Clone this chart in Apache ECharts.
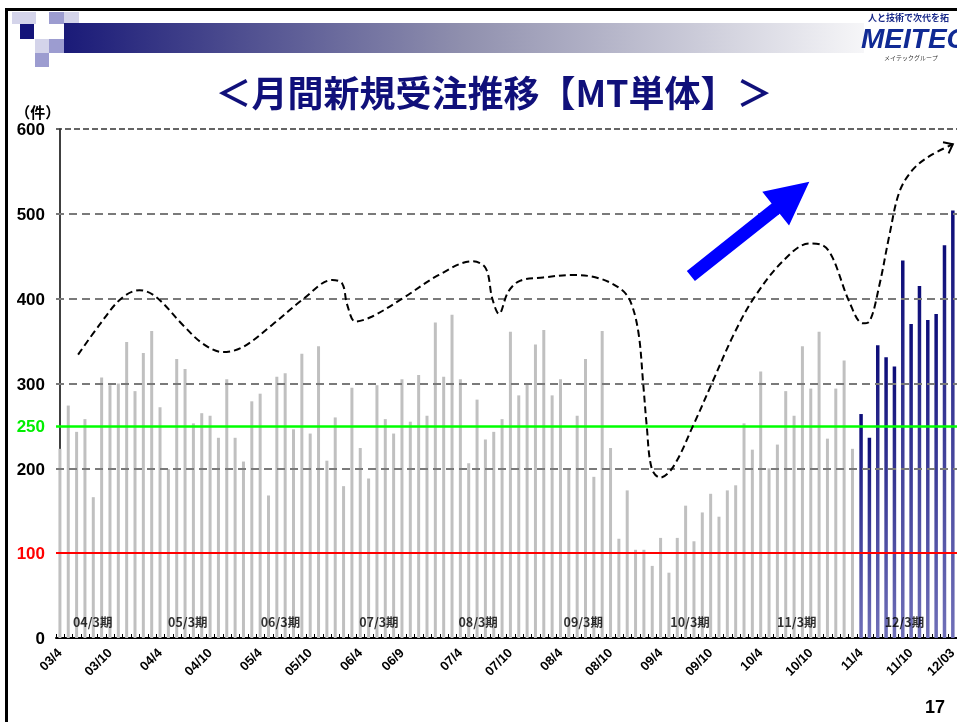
<!DOCTYPE html>
<html><head><meta charset="utf-8">
<script src="https://cdn.jsdelivr.net/npm/echarts@6/dist/echarts.min.js"></script>
<style>html,body{margin:0;padding:0;background:#fff;}#c{width:957px;height:722px;}</style>
</head><body><div id="c"></div>
<script>
// ---- categories (months, fiscal years Apr-Mar) ----
const months = [
 '03/4','03/5','03/6','03/7','03/8','03/9','03/10','03/11','03/12','04/1','04/2','04/3',
 '04/4','04/5','04/6','04/7','04/8','04/9','04/10','04/11','04/12','05/1','05/2','05/3',
 '05/4','05/5','05/6','05/7','05/8','05/9','05/10','05/11','05/12','06/1','06/2','06/3',
 '06/4','06/5','06/6','06/7','06/8','06/9','06/10','06/11','06/12','07/1','07/2','07/3',
 '07/4','07/5','07/6','07/7','07/8','07/9','07/10','07/11','07/12','08/1','08/2','08/3',
 '08/4','08/5','08/6','08/7','08/8','08/9','08/10','08/11','08/12','09/1','09/2','09/3',
 '09/4','09/5','09/6','09/7','09/8','09/9','09/10','09/11','09/12','10/1','10/2','10/3',
 '10/4','10/5','10/6','10/7','10/8','10/9','10/10','10/11','10/12','11/1','11/2','11/3',
 '11/4','11/5','11/6','11/7','11/8','11/9','11/10','11/11','11/12','12/1','12/2','12/3'
];
// ---- monthly new orders (件), past fiscal years (gray) ----
const grayValues = [
 223,274,243,258,166,307,298,300,349,291,336,362,
 272,199,329,317,253,265,262,236,305,236,208,279,
 288,168,308,312,246,335,241,344,209,260,179,295,
 224,188,298,258,241,305,255,310,262,372,308,381,
 305,206,281,234,243,258,361,286,300,346,363,286,
 305,200,262,329,190,362,224,117,174,104,104,85,
 118,77,118,156,114,148,170,143,174,180,253,222,
 314,200,228,291,262,344,294,361,235,294,327,223
];
// ---- current fiscal year 12/3期 (blue) ----
const blueValues = [264,236,345,331,320,445,370,415,375,382,463,504];

// ---- axis tick labels ----
const tickMonths = ['03/4','03/10','04/4','04/10','05/4','05/10','06/4','06/9','07/4','07/10','08/4','08/10','09/4','09/10','10/4','10/10','11/4','11/10','12/3'];
const tickTexts  = ['03/4','03/10','04/4','04/10','05/4','05/10','06/4','06/9','07/4','07/10','08/4','08/10','09/4','09/10','10/4','10/10','11/4','11/10','12/03'];
const yTickValues = [0,100,200,250,300,400,500,600];
const gridLevels = [200,300,400,500];
const topLevel = 600;
const redLevel = 100;
const greenLevel = 250;

// ---- fiscal period labels: [month index position, value, text] ----
const periodNames = ['04/3期','05/3期','06/3期','07/3期','08/3期','09/3期','10/3期','11/3期','12/3期'];
const periodAt = [3.9,15.3,26.4,38.2,50.1,62.7,75.5,88.3,101.2];
const periodLevel = 18;

// ---- hand-drawn trend curve (month index, 件) ----
const trendCurve = [
 [2.15,334],[4.7,369],[7.3,400],[9.5,410],[11.5,402],[14.7,369],[17.1,347],[19.5,337],[21.9,343],
 [25.4,369],[29.2,400],[32.6,422],[33.8,418],[34.4,393],[35.4,373],[37.4,379],[41.0,400],[45.4,428],
 [49.4,444],[51.0,436],[51.8,400],[52.6,382],[53.7,408],[55.1,421],[57.9,425],[61.5,428],[64.6,424],
 [67.1,412],[68.3,398],[69.3,361],[69.9,298],[70.3,251],[70.9,200],[71.9,189],[73.5,202],[75.9,251],
 [78.2,302],[80.7,357],[83.1,400],[86.6,444],[89.8,465],[91.4,463],[92.6,448],[94.6,396],[96.2,371],
 [97.0,373],[98.2,416],[99.4,475],[100.6,526],[102.2,552],[104.2,568],[107.0,582]
];
// ---- big blue upward arrow: [from index, from value, to index, to value] ----
const upArrow = [75.6,426.7,89.8,537.7];

const nGray = grayValues.length;
const grayData = months.map((m,i)=> i < nGray ? grayValues[i] : '-');
const blueData = months.map((m,i)=> i >= nGray ? blueValues[i-nGray] : '-');
const periodData = periodNames.map((n,i)=>[periodAt[i], periodLevel, n]);
const last = trendCurve[trendCurve.length-1], prev = trendCurve[trendCurve.length-2];

const chart = echarts.init(document.getElementById('c'), null, {renderer:'canvas'});
const numFont = '"Liberation Sans", Arial, sans-serif';
const jpFont = '"Noto Sans CJK JP", sans-serif';

const markLines = gridLevels.map(v=>({yAxis:v, lineStyle:{color:'#7a7a7a', width:2, type:[8,5]}}))
 .concat([
  {yAxis:topLevel, lineStyle:{color:'#333', width:1.5, type:[6,3]}},
  {yAxis:redLevel, lineStyle:{color:'#ff0000', width:2, type:'solid'}},
  {yAxis:greenLevel, lineStyle:{color:'#00ff00', width:2.5, type:'solid'}}
 ]);

const option = {
  animation:false,
  backgroundColor:'#fff',
  grid:{left:56, right:0, top:129, bottom:84, containLabel:false, outerBoundsMode:'none'},
  xAxis:[{
    type:'category', data:months, boundaryGap:true,
    axisLine:{show:true, lineStyle:{color:'#000', width:2}},
    axisTick:{show:true, inside:true, length:4, interval:0, lineStyle:{color:'#000', width:1}},
    axisLabel:{
      interval:(i,v)=>tickMonths.indexOf(v)>=0,
      formatter:(v)=>{const k=tickMonths.indexOf(v); return k>=0?tickTexts[k]:'';},
      rotate:45, margin:13, color:'#000', fontSize:13, fontWeight:'bold', fontFamily:numFont
    },
    splitLine:{show:false}
  },{
    type:'value', min:-0.5, max:107.5, show:false
  }],
  yAxis:{
    type:'value', min:0, max:600, interval:50,
    name:'（件）', nameLocation:'end', nameGap:17,
    nameTextStyle:{align:'right', verticalAlign:'middle', color:'#000', fontSize:15, fontWeight:'bold', fontFamily:jpFont, padding:[0,0,0,0]},
    axisLine:{show:true, lineStyle:{color:'#000', width:1.5}},
    axisTick:{show:false},
    splitLine:{show:false},
    axisLabel:{
      margin:11, fontSize:17, fontWeight:'bold', fontFamily:numFont, verticalAlign:'top', padding:[-7,0,0,0],
      formatter:(v)=> yTickValues.indexOf(v)>=0 ? String(v) : '',
      color:(v)=> (+v===redLevel ? '#ff0000' : (+v===greenLevel ? '#00ee00' : '#000'))
    }
  },
  series:[
    {
      type:'bar', name:'past', data:grayData, barWidth:3, barGap:'-100%',
      itemStyle:{color:'#c0c0c0'}, z:2,
      markLine:{silent:true, symbol:['none','none'], label:{show:false}, data:markLines, z:3}
    },
    {
      type:'bar', name:'current', data:blueData, barWidth:3.5, barGap:'-100%', z:2,
      itemStyle:{color:new echarts.graphic.LinearGradient(0,0,0,1,[{offset:0,color:'#0c0c78'},{offset:1,color:'#7070b8'}])}
    },
    {
      type:'line', xAxisIndex:1, data:trendCurve, smooth:0.35, symbol:'none', z:6,
      lineStyle:{color:'#000', width:2, type:[7,4]}
    },
    {
      type:'custom', xAxisIndex:1, z:6, data:[[prev[0],prev[1],last[0],last[1]]],
      encode:{x:[0,2], y:[1,3]},
      renderItem:(params, api)=>{
        const a=api.coord([api.value(0),api.value(1)]), b=api.coord([api.value(2),api.value(3)]);
        const dx=b[0]-a[0], dy=b[1]-a[1], L=Math.hypot(dx,dy), ux=dx/L, uy=dy/L;
        const arm=10, ang=38*Math.PI/180;
        const r=(x,y,t)=>[x*Math.cos(t)-y*Math.sin(t), x*Math.sin(t)+y*Math.cos(t)];
        const p1=r(-ux,-uy,ang), p2=r(-ux,-uy,-ang);
        return {type:'polyline', shape:{points:[[b[0]+p1[0]*arm,b[1]+p1[1]*arm], b, [b[0]+p2[0]*arm,b[1]+p2[1]*arm]]},
          style:{stroke:'#000', lineWidth:2, fill:null}};
      }
    },
    {
      type:'custom', xAxisIndex:1, z:7, data:[upArrow],
      encode:{x:[0,2], y:[1,3]},
      renderItem:(params, api)=>{
        const a=api.coord([api.value(0),api.value(1)]), b=api.coord([api.value(2),api.value(3)]);
        const dx=b[0]-a[0], dy=b[1]-a[1], L=Math.hypot(dx,dy), ux=dx/L, uy=dy/L, nx=-uy, ny=ux;
        const hl=43, hw=21.5, sw=6.5;
        const bx=b[0]-ux*hl, by=b[1]-uy*hl;
        const pts=[[a[0]+nx*sw,a[1]+ny*sw],[bx+nx*sw,by+ny*sw],[bx+nx*hw,by+ny*hw],b,
                   [bx-nx*hw,by-ny*hw],[bx-nx*sw,by-ny*sw],[a[0]-nx*sw,a[1]-ny*sw]];
        return {type:'polygon', shape:{points:pts}, style:{fill:'#0000ff'}};
      }
    },
    {
      type:'scatter', xAxisIndex:1, data:periodData, symbolSize:0, z:8,
      label:{show:true, position:'inside', formatter:(p)=>p.data[2], color:'#000', fontSize:12.5, fontWeight:'bold', fontFamily:jpFont}
    }
  ],
  graphic:[
    // slide frame
    {type:'rect', shape:{x:5, y:8, width:1000, height:3}, style:{fill:'#000'}, silent:true},
    {type:'rect', shape:{x:5, y:8, width:3, height:720}, style:{fill:'#000'}, silent:true},
    // decorative squares
    {type:'rect', shape:{x:12, y:12, width:24, height:12}, style:{fill:'#d4d4ea'}},
    {type:'rect', shape:{x:49, y:12, width:15, height:12}, style:{fill:'#9c9cd0'}},
    {type:'rect', shape:{x:64, y:12, width:15, height:12}, style:{fill:'#d4d4ea'}},
    {type:'rect', shape:{x:20, y:24, width:14, height:15}, style:{fill:'#14147a'}},
    {type:'rect', shape:{x:35, y:39, width:14, height:14}, style:{fill:'#d4d4ea'}},
    {type:'rect', shape:{x:49, y:39, width:15, height:14}, style:{fill:'#9c9cd0'}},
    {type:'rect', shape:{x:35, y:53, width:14, height:14}, style:{fill:'#9c9cd0'}},
    // gradient header bar
    {type:'rect', shape:{x:64, y:23, width:800, height:30},
      style:{fill:new echarts.graphic.LinearGradient(0,0,1,0,[{offset:0,color:'#1a1a78'},{offset:0.5,color:'#9090ae'},{offset:1,color:'#f6f6f8'}])}},
    // logo
    {type:'text', x:868, y:18, style:{text:'人と技術で次代を拓', font:'bold 9px '+jpFont, fill:'#1a2a8a', textVerticalAlign:'middle'}},
    {type:'text', x:861, y:40, style:{text:'MEITEC', font:'italic bold 28px '+numFont, fill:'#102a94', textVerticalAlign:'middle'}},
    {type:'text', x:884, y:58, style:{text:'メイテックグループ', font:'6px '+jpFont, fill:'#333', textVerticalAlign:'middle'}},
    // title
    {type:'text', x:494, y:93, style:{text:'＜月間新規受注推移【MT単体】＞', font:'bold 36px '+jpFont, fill:'#10107a', textAlign:'center', textVerticalAlign:'middle'}},
    // page number
    {type:'text', x:935, y:708, style:{text:'17', font:'bold 18px '+numFont, fill:'#000', textAlign:'center', textVerticalAlign:'middle'}}
  ]
};
chart.setOption(option);
</script>
</body></html>
